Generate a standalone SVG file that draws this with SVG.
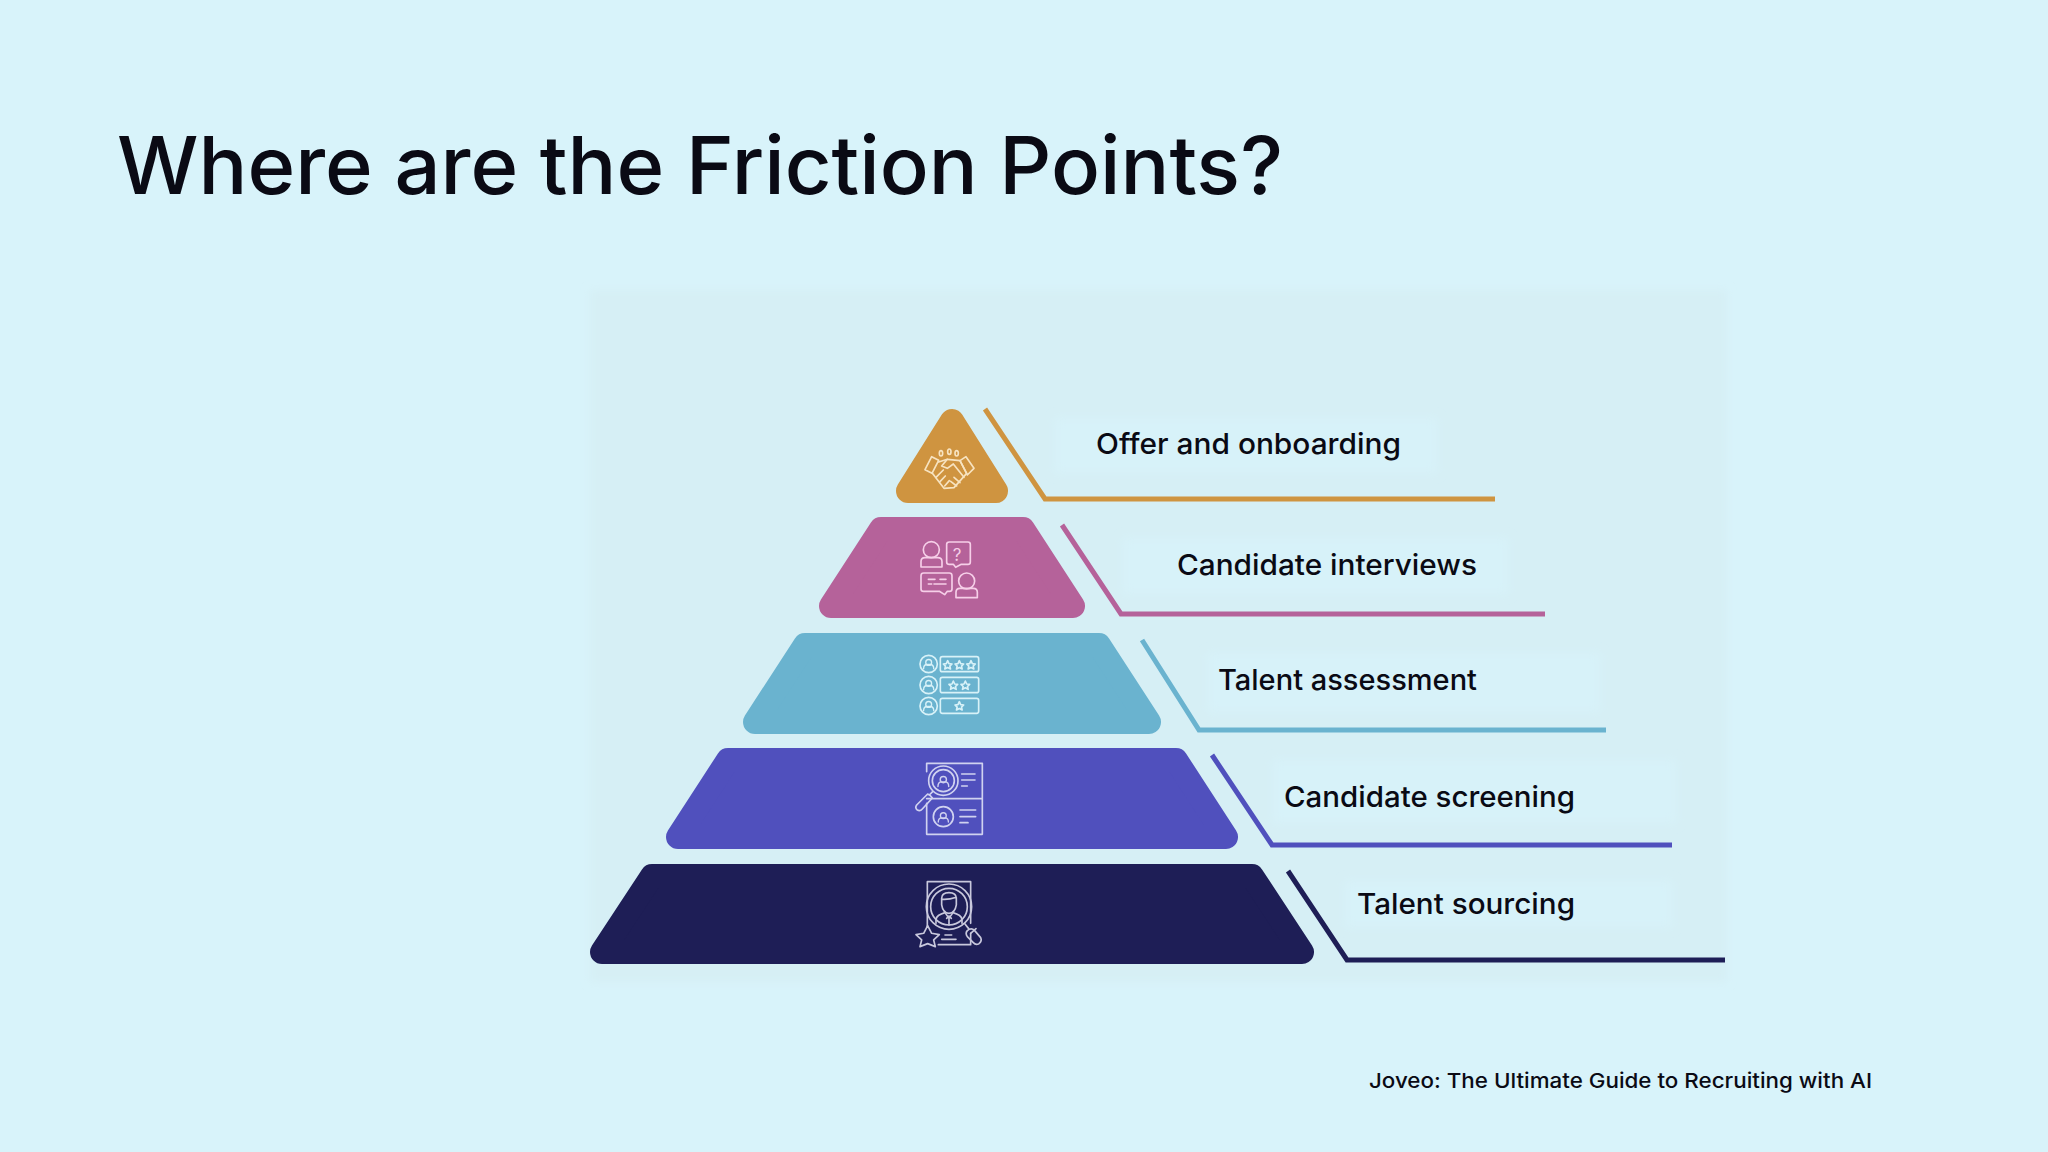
<svg xmlns="http://www.w3.org/2000/svg" xmlns:xlink="http://www.w3.org/1999/xlink" width="2048" height="1152" viewBox="0 0 2048 1152">
<style>
text{font-family:"Inter","Noto Sans","Liberation Sans",sans-serif;fill:#0a0a14}
.title{font-size:80px;font-weight:500}
.label{font-size:29px;font-weight:500}
.foot{font-size:20.5px;font-weight:500}
.tier{stroke-width:24;stroke-linejoin:round}
.box{fill:#d7f2f9}
.conn{fill:none;stroke-width:5;stroke-linejoin:miter}
.ic{fill:none;stroke-width:5;stroke-linecap:round;stroke-linejoin:round}
</style>
<defs>
<path id="star" d="M0-13 4-4 13-3 6.500 3.500 8.500 12 0 7.500-8.500 12-6.500 3.500-13-3-4-4Z"/>
<g id="face"><circle cx="0" cy="-6" r="11"/><path d="M-19 18C-19 2-10 2-6 2H6C10 2 19 2 19 18"/></g>
<filter id="soft" x="-5%" y="-5%" width="110%" height="110%"><feGaussianBlur stdDeviation="4"/></filter>
<filter id="softer" x="-10%" y="-30%" width="120%" height="160%"><feGaussianBlur stdDeviation="5"/></filter>
</defs>
<rect width="2048" height="1152" fill="#d8f3fa"/>
<rect x="590" y="290" width="1137" height="692" fill="#d6eff5" filter="url(#soft)"/>
<g filter="url(#softer)">
<rect class="box" x="1055" y="418" width="382" height="55"/>
<rect class="box" x="1123" y="538" width="385" height="56"/>
<rect class="box" x="1208" y="653" width="392" height="59"/>
<rect class="box" x="1273" y="760" width="403" height="63"/>
<rect class="box" x="1345" y="881" width="327" height="46"/>
</g>
<text class="title" x="117" y="194" textLength="1166" lengthAdjust="spacingAndGlyphs">Where are the Friction Points?</text>

<g id="connectors">
<path class="conn" stroke="#cf9440" d="M985 409 1045 499H1495"/>
<path class="conn" stroke="#b5629a" d="M1062 525 1121 614H1545"/>
<path class="conn" stroke="#6ab3cf" d="M1142 640 1199 730H1606"/>
<path class="conn" stroke="#5050bd" d="M1212 755 1272 845H1672"/>
<path class="conn" stroke="#1e1e56" d="M1288 871 1347 960H1725"/>
</g>

<g id="tier-offer">
<path class="tier" fill="#cf9440" stroke="#cf9440" d="M952 421 996 491H908Z"/>
<g class="ic" stroke="#f7e3c0" transform="translate(860 390) scale(.3333)">
<path d="M215 200 236 211 216 250 195 239ZM318 200 342 235 322 255 300 212Z"/>
<path d="M236 216 262 208 300 212 320 250 282 293 252 295 216 248"/>
<path d="M262 208 245 228 262 235 280 222 312 262M228 262 250 240M240 275 256 258M254 288 268 272M282 262 300 278M272 274 290 288"/>
<ellipse cx="243" cy="190" rx="5" ry="8"/><ellipse cx="268" cy="185" rx="5" ry="8"/><ellipse cx="290" cy="190" rx="5" ry="8"/>
</g>
<text class="label" x="1096" y="454" textLength="305" lengthAdjust="spacingAndGlyphs">Offer and onboarding</text>
</g>

<g id="tier-interviews">
<path class="tier" fill="#b5629a" stroke="#b5629a" d="M881 529H1023L1073 606H831Z"/>
<g class="ic" stroke="#f6cfe8" transform="translate(860 390) scale(.3333)">
<circle cx="214" cy="479" r="24"/>
<path d="M183 531V515Q183 503 195 503H233Q246 503 246 515V531Z"/>
<path d="M268 456H324Q331 456 331 463V516Q331 523 324 523H304L287 532 280 523H268Q260 523 260 516V463Q260 456 268 456Z"/>
<path d="M191 549H268Q276 549 276 557V597Q276 604 268 604H262L254 614 238 604H191Q183 604 183 597V557Q183 549 191 549Z"/>
<path d="M205 568H225M240 568H258M205 582H215M222 582H258"/>
<circle cx="320" cy="573" r="24"/>
<path d="M288 623V607Q288 595 300 595H340Q352 595 352 607V623Z"/>
</g>
<text x="957" y="561" style="font-size:17px;fill:#f6cfe8;text-anchor:middle">?</text>
<text class="label" x="1177" y="575" textLength="300" lengthAdjust="spacingAndGlyphs">Candidate interviews</text>
</g>

<g id="tier-assessment">
<path class="tier" fill="#6ab3cf" stroke="#6ab3cf" d="M805 645H1099L1149 722H755Z"/>
<g class="ic" stroke="#d8f2f8" transform="translate(880 640) scale(.3333)">
<circle cx="146" cy="72" r="26"/><circle cx="146" cy="135" r="26"/><circle cx="146" cy="198" r="26"/>
<use xlink:href="#face" transform="translate(146 72) scale(.8)"/>
<use xlink:href="#face" transform="translate(146 135) scale(.8)"/>
<use xlink:href="#face" transform="translate(146 198) scale(.8)"/>
<rect x="181" y="50" width="115" height="45" rx="6"/><rect x="181" y="112" width="115" height="46" rx="6"/><rect x="181" y="175" width="115" height="45" rx="6"/>
<use xlink:href="#star" x="203" y="75"/><use xlink:href="#star" x="238" y="75"/><use xlink:href="#star" x="273" y="75"/>
<use xlink:href="#star" x="220" y="136"/><use xlink:href="#star" x="256" y="136"/>
<use xlink:href="#star" x="238" y="198"/>
</g>
<text class="label" x="1218" y="690" textLength="259" lengthAdjust="spacingAndGlyphs">Talent assessment</text>
</g>

<g id="tier-screening">
<path class="tier" fill="#5050bd" stroke="#5050bd" d="M728 760H1176L1226 837H678Z"/>
<g class="ic" stroke="#d0d2f0" transform="translate(880 640) scale(.3333)">
<path d="M140 370H307V583H140V490M140 476H307M140 370V395"/>
<circle cx="190" cy="422" r="44"/><circle cx="190" cy="422" r="33"/>
<use xlink:href="#face" transform="translate(190 424) scale(.85)"/>
<path d="M158 455 148 465M143 462 110 495Q104 504 112 510 120 515 127 507L157 474Q152 466 143 462Z"/>
<path d="M245 402H285M245 420H285M245 438H262"/>
<circle cx="190" cy="530" r="30"/>
<use xlink:href="#face" transform="translate(190 532) scale(.8)"/>
<path d="M240 510H287M240 530H287M240 548H264"/>
</g>
<text class="label" x="1284" y="807" textLength="291" lengthAdjust="spacingAndGlyphs">Candidate screening</text>
</g>

<g id="tier-sourcing">
<path class="tier" fill="#1e1e56" stroke="#1e1e56" d="M652 876H1252L1302 952H602Z"/>
<g class="ic" stroke="#c8c8dc" transform="translate(880 640) scale(.3333)">
<path d="M142 860V725H272V850M175 914H272V880"/>
<circle cx="207" cy="800" r="68"/><circle cx="207" cy="800" r="55"/>
<path d="M185 775Q185 758 207 758 229 758 229 775V795Q225 820 207 820 189 820 185 795ZM185 778Q205 780 229 772"/>
<path d="M168 850V838Q170 825 195 818L207 835 219 818Q244 825 246 838V850M207 835V855M200 835 207 828 214 835"/>
<path d="M143 857 155 880 178 884 161 900 166 920 143 911 120 920 125 900 108 884 131 880Z"/>
<path d="M255 852 266 866M262 872 Q274 862 284 872L302 893Q307 903 297 911 287 916 280 908L262 890Q255 880 262 872ZM272 880 288 866"/>
<path d="M195 885H215M185 898H228"/>
</g>
<text class="label" x="1357" y="914" textLength="218" lengthAdjust="spacingAndGlyphs">Talent sourcing</text>
</g>

<text class="foot" x="1369" y="1088" textLength="503" lengthAdjust="spacingAndGlyphs">Joveo: The Ultimate Guide to Recruiting with AI</text>
</svg>
